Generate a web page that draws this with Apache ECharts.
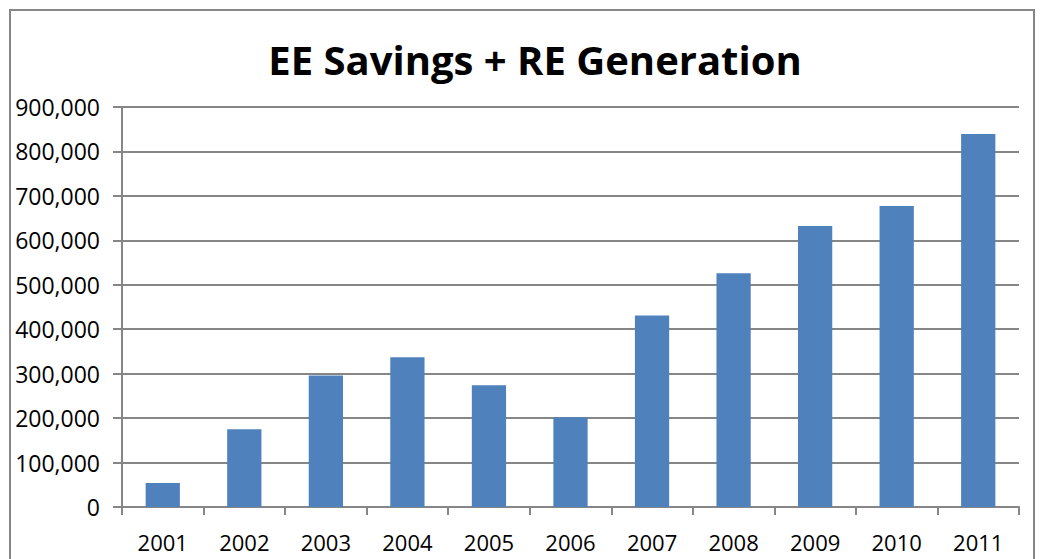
<!DOCTYPE html>
<html>
<head>
<meta charset="utf-8">
<script src="https://cdn.jsdelivr.net/npm/echarts@6/dist/echarts.min.js"></script>
<style>
  html, body { margin: 0; padding: 0; background: #fff; }
  #frame { position: absolute; left: 9px; top: 9px; width: 1026px; height: 600px; border: 2px solid #868686; box-sizing: border-box; }
  #chart { position: absolute; left: 0; top: 0; width: 1044px; height: 559px; }
</style>
</head>
<body>
<div id="frame"></div>
<div id="chart"></div>
<script>
(function(){
  // data
  var years = ['2001','2002','2003','2004','2005','2006','2007','2008','2009','2010','2011'];
  var values = [54000, 175000, 296000, 337000, 274000, 202000, 431000, 526000, 632000, 677000, 839000];
  var yTicks = { min: 0, max: 900000, interval: 100000 };

  var ink = '#000';
  var rule = '#868686';
  var bar = '#4F81BD';

  var chart = echarts.init(document.getElementById('chart'), null, { renderer: 'svg' });
  chart.setOption({
    animation: false,
    title: {
      text: 'EE Savings + RE Generation',
      left: 530,
      textAlign: 'center',
      top: 34,
      textStyle: { fontFamily: 'Open Sans', fontWeight: 'bold', fontSize: 40, color: ink }
    },
    grid: { left: 122, right: 25, top: 107, bottom: 52 },
    xAxis: {
      type: 'category',
      data: years,
      axisLine: { lineStyle: { color: rule, width: 2 } },
      axisTick: { show: true, length: 8, lineStyle: { color: rule, width: 2 } },
      axisLabel: { color: ink, fontFamily: 'Open Sans', fontSize: 22, margin: 24 }
    },
    yAxis: {
      type: 'value',
      min: yTicks.min,
      max: yTicks.max,
      interval: yTicks.interval,
      axisLine: { show: true, lineStyle: { color: rule, width: 2 } },
      axisTick: { show: true, length: 9, lineStyle: { color: rule, width: 2 } },
      splitLine: { lineStyle: { color: rule, width: 2 } },
      axisLabel: {
        color: ink, fontFamily: 'Open Sans', fontSize: 23, margin: 22,
        formatter: function(v){ return v.toLocaleString('en-US'); }
      }
    },
    series: [{
      type: 'bar',
      data: values,
      barWidth: '42%',
      itemStyle: { color: bar }
    }]
  });
})();
</script>
</body>
</html>
